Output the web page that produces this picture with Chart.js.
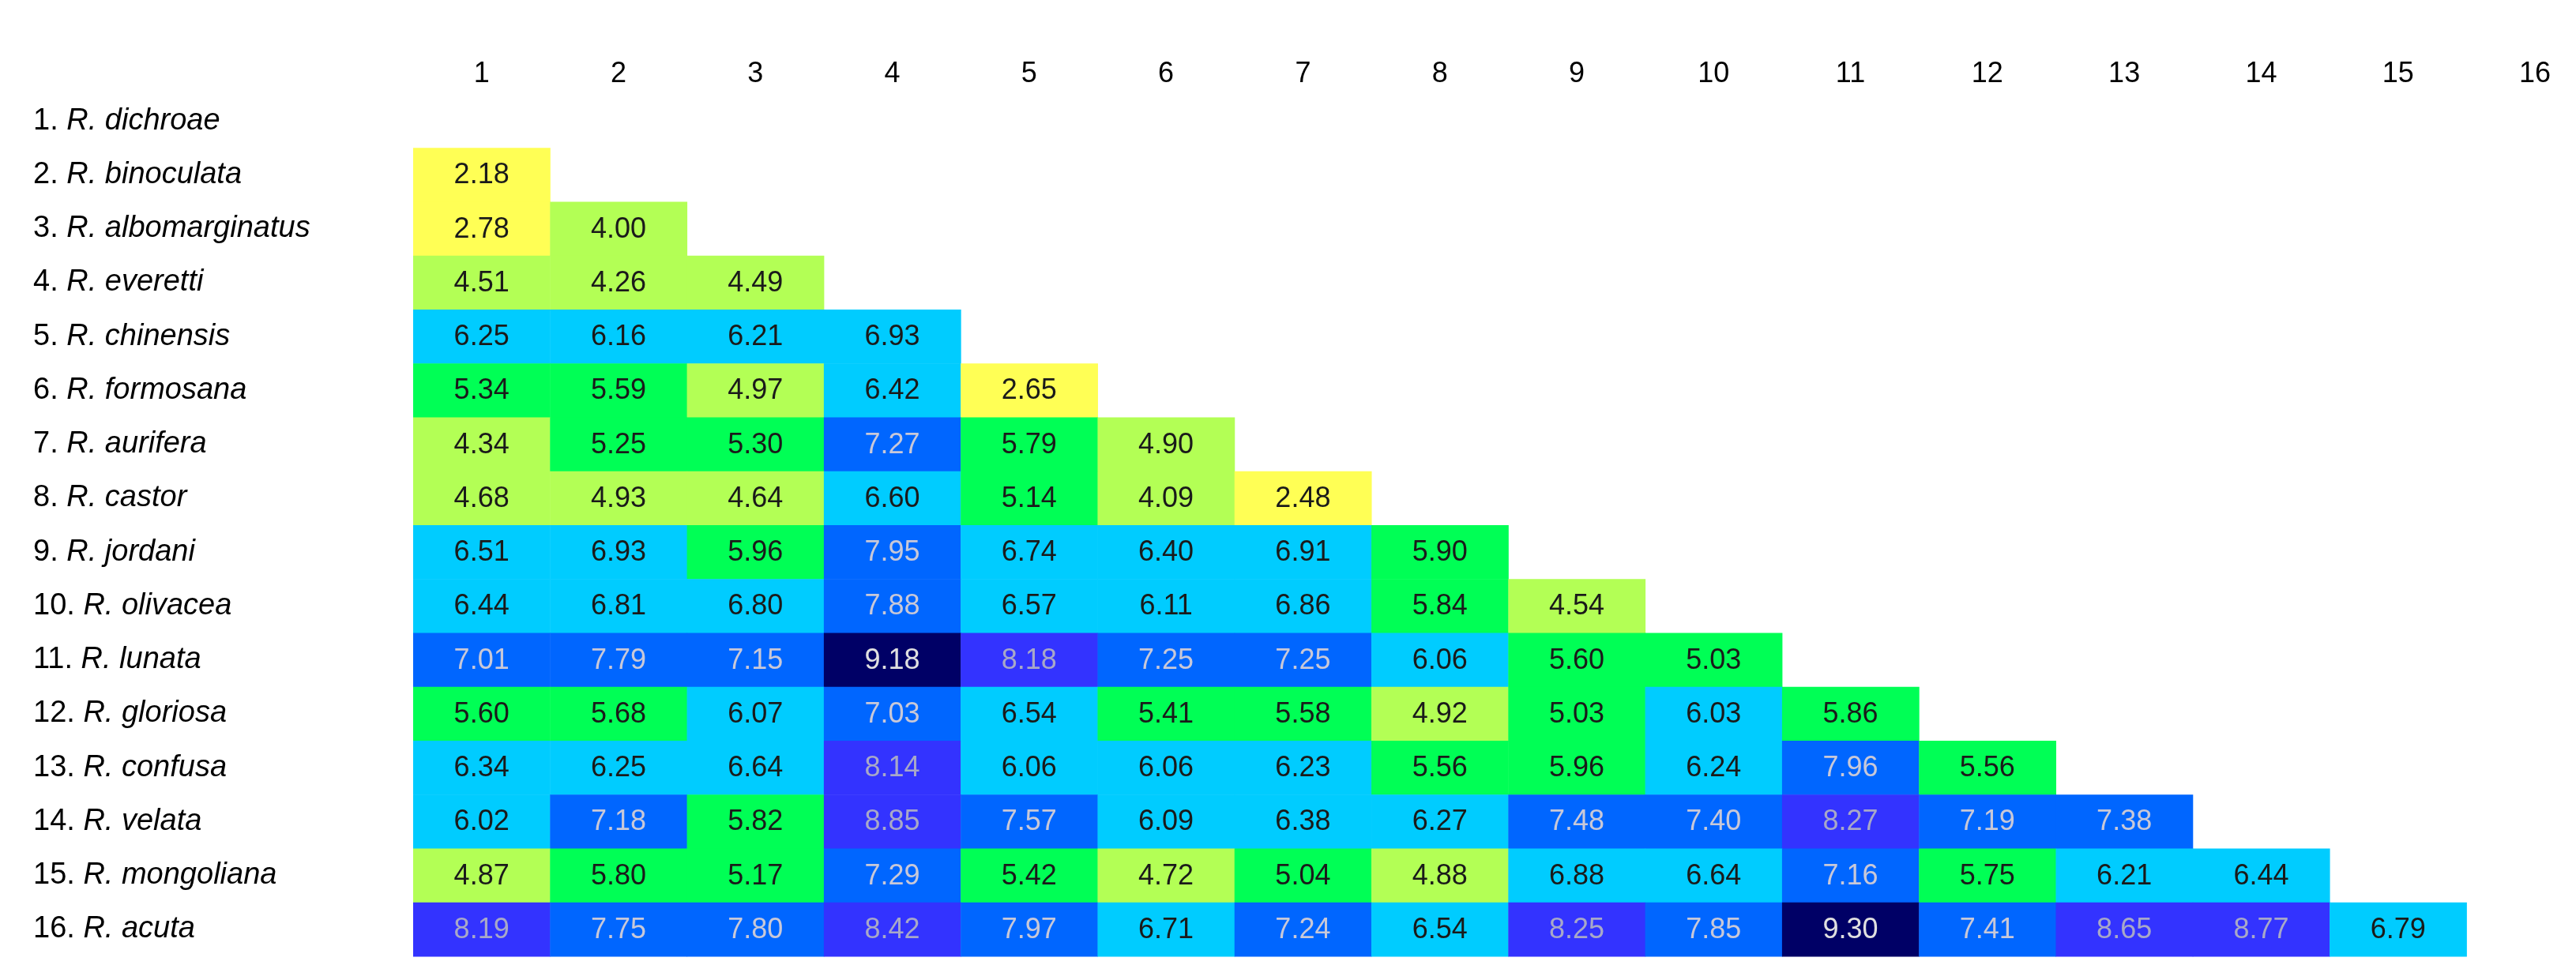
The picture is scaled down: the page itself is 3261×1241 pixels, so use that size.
<!DOCTYPE html>
<html><head><meta charset="utf-8">
<title>Distance heatmap</title>
<script src="https://cdn.jsdelivr.net/npm/chart.js@4/dist/chart.umd.min.js"></script>
<style>body{margin:0;background:#fff}</style>
</head><body>
<canvas id="canvas" width="3261" height="1241"></canvas>
<script>
var species = ['R. dichroae','R. binoculata','R. albomarginatus','R. everetti','R. chinensis','R. formosana',
  'R. aurifera','R. castor','R. jordani','R. olivacea','R. lunata','R. gloriosa','R. confusa','R. velata',
  'R. mongoliana','R. acuta'];
var colLabels = ['1','2','3','4','5','6','7','8','9','10','11','12','13','14','15','16'];
// lower triangle, row i (2..16) against columns 1..i-1
var distances = [
  [],
  [2.18],
  [2.78,4.00],
  [4.51,4.26,4.49],
  [6.25,6.16,6.21,6.93],
  [5.34,5.59,4.97,6.42,2.65],
  [4.34,5.25,5.30,7.27,5.79,4.90],
  [4.68,4.93,4.64,6.60,5.14,4.09,2.48],
  [6.51,6.93,5.96,7.95,6.74,6.40,6.91,5.90],
  [6.44,6.81,6.80,7.88,6.57,6.11,6.86,5.84,4.54],
  [7.01,7.79,7.15,9.18,8.18,7.25,7.25,6.06,5.60,5.03],
  [5.60,5.68,6.07,7.03,6.54,5.41,5.58,4.92,5.03,6.03,5.86],
  [6.34,6.25,6.64,8.14,6.06,6.06,6.23,5.56,5.96,6.24,7.96,5.56],
  [6.02,7.18,5.82,8.85,7.57,6.09,6.38,6.27,7.48,7.40,8.27,7.19,7.38],
  [4.87,5.80,5.17,7.29,5.42,4.72,5.04,4.88,6.88,6.64,7.16,5.75,6.21,6.44],
  [8.19,7.75,7.80,8.42,7.97,6.71,7.24,6.54,8.25,7.85,9.30,7.41,8.65,8.77,6.79]
];

function cellColor(v){
  if (v < 3) return '#ffff55';
  if (v < 5) return '#b3ff55';
  if (v < 6) return '#00ff55';
  if (v < 7) return '#00ccff';
  if (v < 8) return '#0066ff';
  if (v < 9) return '#3333ff';
  return '#000066';
}
function textColor(v){
  if (v < 7) return '#1a1a1a';
  if (v < 8) return '#c8c8d8';
  if (v < 9) return '#a8a8c8';
  return '#e0e0e0';
}

var points = [];
for (var r = 0; r < distances.length; r++) {
  for (var c = 0; c < distances[r].length; c++) {
    points.push({x: c + 1, y: r + 1, v: distances[r][c]});
  }
}

var heatPlugin = {
  id: 'heat',
  beforeDatasetsDraw: function(chart){
    var ctx = chart.ctx, xs = chart.scales.x, ys = chart.scales.y;
    var w = xs.getPixelForValue(1.5) - xs.getPixelForValue(0.5);
    var h = ys.getPixelForValue(1.5) - ys.getPixelForValue(0.5);
    ctx.save();
    points.forEach(function(p){
      var x0 = xs.getPixelForValue(p.x - 0.5), y0 = ys.getPixelForValue(p.y - 0.5);
      ctx.fillStyle = cellColor(p.v);
      ctx.fillRect(x0, y0, w + 0.5, h + 0.5);
    });
    ctx.textAlign = 'center'; ctx.textBaseline = 'middle';
    ctx.font = '36px "Liberation Sans", Arial, sans-serif';
    points.forEach(function(p){
      ctx.fillStyle = textColor(p.v);
      ctx.fillText(p.v.toFixed(2), xs.getPixelForValue(p.x), ys.getPixelForValue(p.y) + 1);
    });
    // header numbers
    ctx.fillStyle = '#000';
    ctx.font = '36px "Liberation Sans", Arial, sans-serif';
    colLabels.forEach(function(l, i){
      ctx.fillText(l, xs.getPixelForValue(i + 1), 94);
    });
    // row labels
    ctx.textAlign = 'left';
    species.forEach(function(s, i){
      var y = ys.getPixelForValue(i + 1);
      var pre = (i + 1) + '. ';
      ctx.font = '38px "Liberation Sans", Arial, sans-serif';
      ctx.fillText(pre, 42, y);
      var pw = ctx.measureText(pre).width;
      ctx.font = 'italic 38px "Liberation Sans", Arial, sans-serif';
      ctx.fillText(s, 42 + pw, y);
    });
    ctx.restore();
  }
};

new Chart(document.getElementById('canvas').getContext('2d'), {
  type: 'scatter',
  data: { datasets: [{ data: points, pointRadius: 0, pointHoverRadius: 0 }] },
  options: {
    responsive: false,
    animation: false,
    layout: { padding: { left: 523, right: 0, top: 119, bottom: 30 } },
    plugins: { legend: { display: false }, tooltip: { enabled: false } },
    scales: {
      x: { type: 'linear', min: 0.5, max: 16.3, display: false },
      y: { type: 'linear', min: 0.5, max: 16.5, reverse: true, display: false }
    }
  },
  plugins: [heatPlugin]
});
</script>
</body></html>
